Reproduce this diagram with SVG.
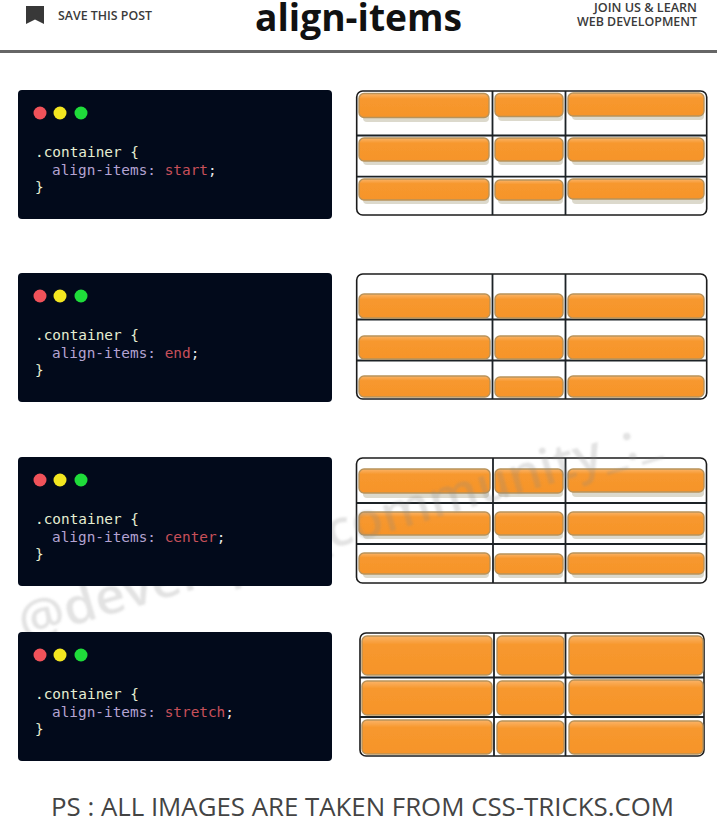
<svg xmlns="http://www.w3.org/2000/svg" width="717" height="830" viewBox="0 0 717 830">
<style>
text{font-family:"Open Sans","Liberation Sans",sans-serif}
.code{font-family:"DejaVu Sans Mono","Liberation Mono",monospace;font-size:14.4px;fill:#e6eed2}
.prop{fill:#b4a3d2}.val{fill:#c8505a}.semi{fill:#e8e8e8}
.panel{fill:#020a1b}
.frame{fill:#fff;stroke:#1c1c1c;stroke-width:1.6}
.line{stroke:#1c2226;stroke-width:1.8;fill:none}
.it{fill:url(#orange);stroke:#b8925a;stroke-width:1.4}
.sh{fill:#dcd9cc}
.hdr{font-size:12px;font-weight:600;fill:#3a3a3a}
</style>
<defs>
<filter id="soft" x="-5%" y="-5%" width="110%" height="110%"><feGaussianBlur stdDeviation="0.5"/></filter>
<filter id="wm" x="-5%" y="-20%" width="110%" height="140%"><feGaussianBlur stdDeviation="0.9"/></filter>
<linearGradient id="orange" x1="0" y1="0" x2="0" y2="1"><stop offset="0" stop-color="#fbb469"/><stop offset="0.22" stop-color="#f7982e"/><stop offset="1" stop-color="#f6942a"/></linearGradient>
</defs>
<rect width="717" height="830" fill="#fff"/>
<g id="header">
<path d="M26 6h18v18l-9-4.500-9 4.500z" fill="#383838"/>
<text class="hdr" x="58" y="20" textLength="94" lengthAdjust="spacingAndGlyphs">SAVE THIS POST</text>
<text x="255" y="31" font-size="37" font-weight="700" fill="#111" textLength="207" lengthAdjust="spacingAndGlyphs">align-items</text>
<text class="hdr" x="594" y="12" textLength="103" lengthAdjust="spacingAndGlyphs">JOIN US &amp; LEARN</text>
<text class="hdr" x="577" y="26" textLength="120" lengthAdjust="spacingAndGlyphs">WEB DEVELOPMENT</text>
<rect x="0" y="50" width="717" height="3" fill="#666"/>
</g>
<g id="grid-start" filter="url(#soft)">
<rect class="frame" x="356.7" y="91" width="350" height="124" rx="6"/>
<path class="line" d="M492.500 91V215M565.500 91V215M357 135.500H707M357 176.700H707"/>
<rect class="sh" x="363" y="98" width="126" height="24" rx="4"/><rect class="it" x="359" y="93.500" width="130" height="24" rx="5"/>
<rect class="sh" x="498" y="98" width="65" height="23" rx="4"/><rect class="it" x="495" y="93.500" width="68" height="23" rx="5"/>
<rect class="sh" x="572" y="97" width="132" height="23" rx="4"/><rect class="it" x="568" y="93" width="136" height="23" rx="5"/>
<rect class="sh" x="363" y="142" width="126" height="23" rx="4"/><rect class="it" x="359" y="138" width="130" height="23" rx="5"/>
<rect class="sh" x="498" y="142" width="65" height="23" rx="4"/><rect class="it" x="495" y="138" width="68" height="23" rx="5"/>
<rect class="sh" x="572" y="142" width="132" height="23" rx="4"/><rect class="it" x="568" y="138" width="136" height="23" rx="5"/>
<rect class="sh" x="363" y="183" width="126" height="21" rx="4"/><rect class="it" x="359" y="179" width="130" height="21" rx="5"/>
<rect class="sh" x="498" y="183" width="65" height="21" rx="4"/><rect class="it" x="495" y="180" width="68" height="20" rx="5"/>
<rect class="sh" x="572" y="183" width="132" height="21" rx="4"/><rect class="it" x="568" y="179" width="136" height="20" rx="5"/>
</g>
<g id="grid-end" filter="url(#soft)">
<rect class="frame" x="356.700" y="274" width="350" height="125" rx="6"/>
<path class="line" d="M492.500 274V399M565.500 274V399M357 319.500H707M357 360.500H707"/>
<rect class="it" x="359" y="294" width="131" height="24" rx="5"/><rect class="it" x="495" y="294" width="68" height="24" rx="5"/><rect class="it" x="568" y="294" width="136" height="24" rx="5"/>
<rect class="it" x="359" y="336" width="131" height="23" rx="5"/><rect class="it" x="495" y="336" width="68" height="23" rx="5"/><rect class="it" x="568" y="336" width="136" height="23" rx="5"/>
<rect class="it" x="359" y="376" width="131" height="21" rx="5"/><rect class="it" x="495" y="377" width="68" height="20" rx="5"/><rect class="it" x="568" y="376" width="136" height="21" rx="5"/>
</g>
<g id="grid-center" filter="url(#soft)">
<rect class="frame" x="356.500" y="458" width="350" height="125" rx="6"/>
<path class="line" d="M493 458V583M565.500 458V583M357 503H707M357 544H707"/>
<rect class="sh" x="363" y="473" width="126" height="25" rx="4"/><rect class="it" x="359" y="469" width="131" height="24" rx="5"/>
<rect class="sh" x="498" y="473" width="65" height="24" rx="4"/><rect class="it" x="495" y="469" width="68" height="24" rx="5"/>
<rect class="sh" x="572" y="473" width="132" height="24" rx="4"/><rect class="it" x="568" y="469" width="136" height="23" rx="5"/>
<rect class="sh" x="363" y="516" width="126" height="23" rx="4"/><rect class="it" x="359" y="512" width="131" height="23" rx="5"/>
<rect class="sh" x="498" y="516" width="65" height="23" rx="4"/><rect class="it" x="495" y="512" width="68" height="23" rx="5"/>
<rect class="sh" x="572" y="516" width="132" height="23" rx="4"/><rect class="it" x="568" y="512" width="136" height="23" rx="5"/>
<rect class="sh" x="363" y="557" width="126" height="21" rx="4"/><rect class="it" x="359" y="553" width="131" height="21" rx="5"/>
<rect class="sh" x="498" y="557" width="65" height="21" rx="4"/><rect class="it" x="495" y="554" width="68" height="20" rx="5"/>
<rect class="sh" x="572" y="557" width="132" height="21" rx="4"/><rect class="it" x="568" y="553" width="136" height="21" rx="5"/>
</g>
<g id="grid-stretch" filter="url(#soft)">
<rect class="frame" x="360" y="633" width="344" height="123" rx="6"/>
<path class="line" d="M494 633V756M565.500 633V756M360 677.500H704M360 717H704"/>
<rect class="it" x="362" y="636" width="130" height="39" rx="5"/><rect class="it" x="497" y="636" width="67" height="39" rx="5"/><rect class="it" x="569" y="636" width="134" height="39" rx="5"/>
<rect class="it" x="362" y="681" width="130" height="34" rx="5"/><rect class="it" x="497" y="681" width="67" height="34" rx="5"/><rect class="it" x="569" y="680" width="134" height="35" rx="5"/>
<rect class="it" x="362" y="720" width="130" height="34" rx="5"/><rect class="it" x="497" y="721" width="67" height="33" rx="5"/><rect class="it" x="569" y="721" width="134" height="33" rx="5"/>
</g>
<g id="watermark" filter="url(#wm)">
<text transform="translate(24 640) rotate(-16.500)" font-size="50" font-weight="600" fill="#8a8a8a" fill-opacity="0.24" textLength="665" lengthAdjust="spacingAndGlyphs">@developer_community_:_</text>
</g>
<g id="code-start">
<rect class="panel" x="18" y="90" width="314" height="129" rx="4"/>
<circle cx="40" cy="113" r="6.500" fill="#f0525a"/><circle cx="60" cy="113" r="6.500" fill="#f3e620"/><circle cx="81" cy="113" r="6.500" fill="#1fdc3a"/>
<text class="code" x="35" y="157">.container {</text>
<text class="code" x="52" y="175"><tspan class="prop">align-items:</tspan> <tspan class="val">start</tspan><tspan class="semi">;</tspan></text>
<text class="code" x="35" y="192">}</text>
</g>
<g id="code-end">
<rect class="panel" x="18" y="273" width="314" height="129" rx="4"/>
<circle cx="40" cy="296" r="6.500" fill="#f0525a"/><circle cx="60" cy="296" r="6.500" fill="#f3e620"/><circle cx="81" cy="296" r="6.500" fill="#1fdc3a"/>
<text class="code" x="35" y="340">.container {</text>
<text class="code" x="52" y="358"><tspan class="prop">align-items:</tspan> <tspan class="val">end</tspan><tspan class="semi">;</tspan></text>
<text class="code" x="35" y="375">}</text>
</g>
<g id="code-center">
<rect class="panel" x="18" y="457" width="314" height="129" rx="4"/>
<circle cx="40" cy="480" r="6.500" fill="#f0525a"/><circle cx="60" cy="480" r="6.500" fill="#f3e620"/><circle cx="81" cy="480" r="6.500" fill="#1fdc3a"/>
<text class="code" x="35" y="524">.container {</text>
<text class="code" x="52" y="542"><tspan class="prop">align-items:</tspan> <tspan class="val">center</tspan><tspan class="semi">;</tspan></text>
<text class="code" x="35" y="559">}</text>
</g>
<g id="code-stretch">
<rect class="panel" x="18" y="632" width="314" height="129" rx="4"/>
<circle cx="40" cy="655" r="6.500" fill="#f0525a"/><circle cx="60" cy="655" r="6.500" fill="#f3e620"/><circle cx="81" cy="655" r="6.500" fill="#1fdc3a"/>
<text class="code" x="35" y="699">.container {</text>
<text class="code" x="52" y="717"><tspan class="prop">align-items:</tspan> <tspan class="val">stretch</tspan><tspan class="semi">;</tspan></text>
<text class="code" x="35" y="734">}</text>
</g>
<g id="footer">
<text x="51" y="816" font-size="25" fill="#444" textLength="623" lengthAdjust="spacingAndGlyphs">PS : ALL IMAGES ARE TAKEN FROM CSS-TRICKS.COM</text>
</g>
</svg>
